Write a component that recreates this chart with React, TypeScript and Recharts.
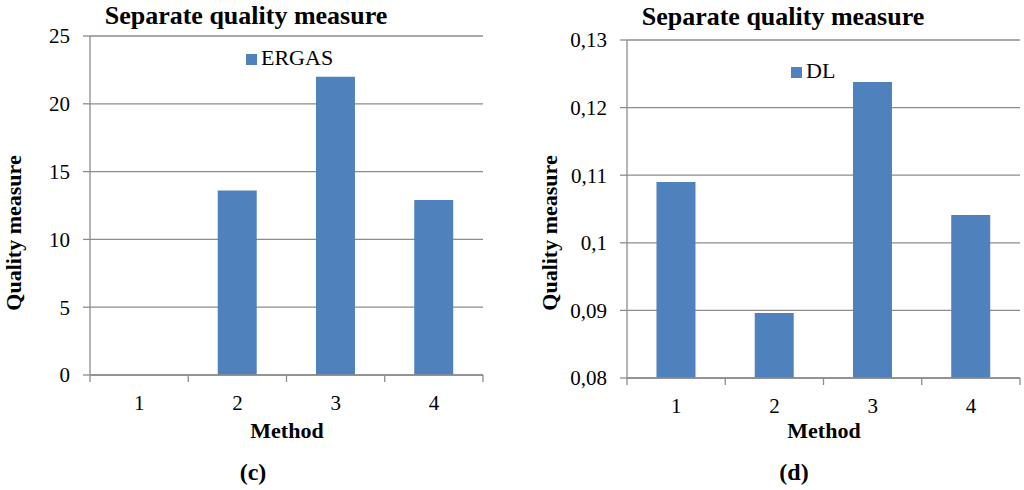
import React from "react";
import { BarChart, Bar, XAxis, YAxis, CartesianGrid, Legend } from "recharts";

const methods = ["1", "2", "3", "4"];
const ergasValues = [0, 13.6, 22, 12.9];
const dlValues = [0.109, 0.0896, 0.1238, 0.1041];
const ergasTicks = [0, 5, 10, 15, 20, 25];
const dlTicks = [0.08, 0.09, 0.1, 0.11, 0.12, 0.13];

const ergasData = methods.map((m, i) => ({ method: m, ERGAS: ergasValues[i] }));
const dlData = methods.map((m, i) => ({ method: m, DL: dlValues[i] }));

const FONT = "Liberation Serif";
const GRID = "#8c8c8c";
const BLUE = "#4f81bd";

const W = 512;
const H = 490;

function makeTick(band: number) {
  return (props: any) => {
    const { x, y, payload, index } = props;
    const axisY = y - 20;
    const left = x - band / 2;
    return (
      <g>
        <line x1={left} x2={left} y1={axisY} y2={axisY + 7} stroke={GRID} strokeWidth={1.3} />
        {index === methods.length - 1 && (
          <line x1={x + band / 2} x2={x + band / 2} y1={axisY} y2={axisY + 7} stroke={GRID} strokeWidth={1.3} />
        )}
        <text x={x} y={y} dy="0.71em" textAnchor="middle" fill="#000" fontSize={21} style={{ fontFamily: FONT }}>
          {payload.value}
        </text>
      </g>
    );
  };
}

function makeYTick(fmt?: (v: number) => string) {
  return (props: any) => {
    const { x, y, payload } = props;
    return (
      <text x={x} y={y} dy="0.355em" textAnchor="end" fill="#000" fontSize={21} style={{ fontFamily: FONT }}>
        {fmt ? fmt(payload.value) : payload.value}
      </text>
    );
  };
}

type PanelProps = {
  left: number;
  data: any[];
  dataKey: string;
  ticks: number[];
  plot: { x0: number; x1: number; y0: number; y1: number };
  legendPos: { left: number; top: number };
  titleX: number;
  titleTop: number;
  yLabelX: number;
  methodX: number;
  caption: string;
  captionX: number;
  fmt?: (v: number) => string;
};

const textBase: React.CSSProperties = {
  position: "absolute",
  textAlign: "center",
  fontWeight: "bold",
  fontFamily: FONT,
  whiteSpace: "nowrap",
};

function Panel(p: PanelProps) {
  const xAxisH = 60;
  const band = (p.plot.x1 - p.plot.x0) / methods.length;
  return (
    <div style={{ position: "absolute", left: p.left, top: 0, width: W, height: H, fontFamily: FONT }}>
      <BarChart
        width={W}
        height={H}
        data={p.data}
        barCategoryGap="30%"
        style={{ fontFamily: FONT }}
        margin={{ top: p.plot.y0, right: W - p.plot.x1, left: 0, bottom: H - p.plot.y1 - xAxisH }}
      >
        <CartesianGrid vertical={false} stroke={GRID} strokeWidth={1.3} />
        <XAxis
          dataKey="method"
          height={xAxisH}
          axisLine={{ stroke: GRID, strokeWidth: 1.3 }}
          tickLine={false}
          tickSize={7}
          tickMargin={13}
          interval={0}
          tick={makeTick(band)}
        />
        <YAxis
          width={p.plot.x0}
          domain={[p.ticks[0], p.ticks[p.ticks.length - 1]]}
          ticks={p.ticks}
          interval={0}
          axisLine={{ stroke: GRID, strokeWidth: 1.3 }}
          tickLine={{ stroke: GRID, strokeWidth: 1.3 }}
          tickSize={7}
          tickMargin={13}
          tick={makeYTick(p.fmt)}
        />
        <Legend
          layout="horizontal"
          verticalAlign="middle"
          align="center"
          iconType="square"
          iconSize={11}
          formatter={(v: string) => <span style={{ color: "#000", fontFamily: FONT }}>{v}</span>}
          wrapperStyle={{
            top: p.legendPos.top,
            left: p.legendPos.left,
            width: "auto",
            fontSize: 22,
            lineHeight: "24px",
            fontFamily: FONT,
          }}
        />
        <Bar dataKey={p.dataKey} fill={BLUE} isAnimationActive={false} />
      </BarChart>
      <div style={{ ...textBase, left: p.titleX - 200, width: 400, top: p.titleTop, fontSize: 26, lineHeight: "26px" }}>
        Separate quality measure
      </div>
      <div
        style={{
          ...textBase,
          left: p.yLabelX - 150,
          top: 233 - 11,
          width: 300,
          height: 22,
          fontSize: 22,
          lineHeight: "22px",
          transform: "rotate(-90deg)",
          transformOrigin: "center",
        }}
      >
        Quality measure
      </div>
      <div style={{ ...textBase, left: p.methodX - 100, width: 200, top: 420, fontSize: 22, lineHeight: "22px" }}>
        Method
      </div>
      <div style={{ ...textBase, left: p.captionX - 50, width: 100, top: 460, fontSize: 24, lineHeight: "24px" }}>
        {p.caption}
      </div>
    </div>
  );
}

export default function App() {
  return (
    <div
      style={{
        position: "absolute",
        left: 0,
        top: 0,
        width: 1024,
        height: 490,
        background: "#fff",
        color: "#000",
        fontFamily: FONT,
      }}
    >
      <Panel
        left={0}
        data={ergasData}
        dataKey="ERGAS"
        ticks={ergasTicks}
        plot={{ x0: 90, x1: 483, y0: 36, y1: 375 }}
        legendPos={{ left: 246, top: 46 }}
        titleX={246}
        titleTop={3}
        yLabelX={14}
        methodX={287}
        caption="(c)"
        captionX={253}
      />
      <Panel
        left={512}
        data={dlData}
        dataKey="DL"
        ticks={dlTicks}
        plot={{ x0: 115, x1: 508, y0: 40, y1: 378 }}
        legendPos={{ left: 279, top: 59 }}
        titleX={271}
        titleTop={4}
        yLabelX={38}
        methodX={312}
        caption="(d)"
        captionX={282}
        fmt={(v: number) => String(v).replace(".", ",")}
      />
    </div>
  );
}
